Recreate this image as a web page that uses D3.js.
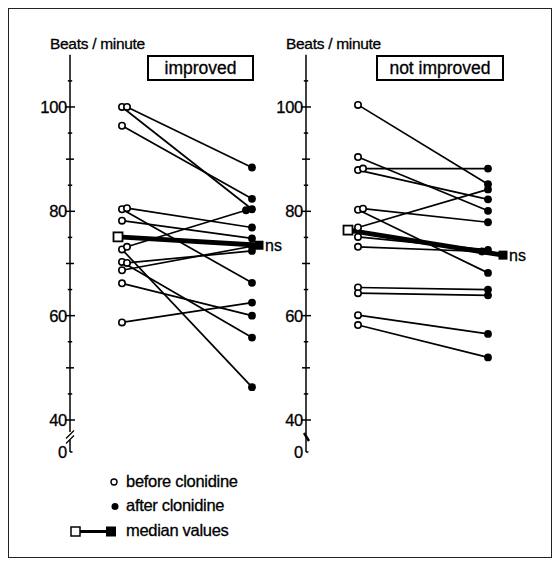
<!DOCTYPE html>
<html><head><meta charset="utf-8">
<script src="https://cdn.jsdelivr.net/npm/d3@7"></script>
<style>html,body{margin:0;padding:0;background:#fff}svg{display:block;font-family:"Liberation Sans",Arial,Helvetica,sans-serif}svg text{stroke:#000;stroke-width:0.3px}</style>
</head><body>
<svg id="c" width="560" height="566"></svg>
<script>
// ---------- data ----------
const panelTitles = ["improved", "not improved"];
const yAxisTitle = "Beats / minute";
const tickLabels = [0, 40, 60, 80, 100];
const minorTicks = [40,45,50,55,60,65,70,75,80,85,90,95,100,105];
const leftBefore  = [100, 100, 96.4, 80.4, 80.6, 78.2, 72.7, 73.2, 70.3, 70.1, 68.7, 66.2, 58.7];
const leftAfter   = [80.4, 88.4, 82.4, 66.3, 76.9, 74.8, 46.3, 80.2, 55.8, 72.4, 73.3, 60.0, 62.5];
const rightBefore = [100.4, 90.4, 87.9, 88.2, 80.3, 80.5, 76.9, 75.1, 73.2, 65.4, 64.3, 60.1, 58.2];
const rightAfter  = [85.2, 80.1, 82.3, 88.2, 68.2, 77.9, 84.2, 72.6, 72.3, 65.0, 63.9, 56.5, 52.0];
const leftMedian  = [75.1, 73.5];
const rightMedian = [76.4, 71.6];
const sigLabels   = ["ns", "ns"];
const legendLabels = ["before clonidine", "after clonidine", "median values"];

// ---------- layout ----------
const svg = d3.select("#c");
svg.append("rect").attr("x",8.5).attr("y",8.5).attr("width",543).attr("height",549)
  .attr("fill","none").attr("stroke","#222").attr("stroke-width",1);

const y = d3.scaleLinear().domain([0, 40, 110]).range([452, 420, 54.8]);
const x = d3.scalePoint().domain(["before","after"]).range([52, 182]);

const panels = [
  {ax: 70,  before: leftBefore,  after: leftAfter,  median: leftMedian,  title: panelTitles[0], box:[78,183], mOff:[-4,7],  brk:"double", sig: sigLabels[0]},
  {ax: 306, before: rightBefore, after: rightAfter, median: rightMedian, title: panelTitles[1], box:[71,197], mOff:[-10,15], brk:"single", sig: sigLabels[1]}
];

function jitter(vals, step) {
  const placed = [];
  return vals.map(v => {
    const n = placed.filter(p => Math.abs(p - v) < 0.6).length;
    placed.push(v);
    return n * step;
  });
}

panels.forEach(p => {
  const g = svg.append("g").attr("transform", `translate(${p.ax},0)`);
  // axis
  g.append("line").attr("x1",0).attr("x2",0).attr("y1",y(0)).attr("y2",y(110))
    .attr("stroke","#000").attr("stroke-width",1.5);
  minorTicks.forEach(v => {
    const h = v % 20 === 0 ? 5 : (v % 10 === 0 ? 4 : 2.2);
    g.append("line").attr("x1",-h).attr("x2",h).attr("y1",y(v)).attr("y2",y(v))
      .attr("stroke","#000").attr("stroke-width",1.5);
  });
  g.append("line").attr("x1",0).attr("x2",2.5).attr("y1",y(0)).attr("y2",y(0))
    .attr("stroke","#000").attr("stroke-width",1.5);
  tickLabels.forEach(v => {
    g.append("text").attr("x",-3).attr("y",y(v)).attr("dy","0.36em")
      .attr("text-anchor","end").attr("font-size",16.5).attr("letter-spacing",-0.3).text(v);
  });
  // axis break
  const by = 437;
  if (p.brk === "double") {
    g.append("rect").attr("x",-3).attr("y",by-5).attr("width",6).attr("height",8).attr("fill","#fff");
    [-2.5, 2.5].forEach(o => g.append("line").attr("x1",-4).attr("x2",4)
      .attr("y1",by+o+4).attr("y2",by+o-4).attr("stroke","#000").attr("stroke-width",1.3));
  } else {
    g.append("line").attr("x1",-2).attr("x2",3).attr("y1",by-4).attr("y2",by+4)
      .attr("stroke","#000").attr("stroke-width",2.5);
  }
  // axis title
  g.append("text").attr("x",-20).attr("y",49).attr("font-size",15.5).attr("letter-spacing",-0.3).text(yAxisTitle);
  // title box
  g.append("rect").attr("x",p.box[0]).attr("y",56).attr("width",p.box[1]-p.box[0]).attr("height",24)
    .attr("fill","#fff").attr("stroke","#000").attr("stroke-width",2);
  g.append("text").attr("x",(p.box[0]+p.box[1])/2).attr("y",73.5).attr("text-anchor","middle")
    .attr("font-size",17.5).text(p.title);

  const jb = jitter(p.before, 5);
  const ja = jitter(p.after, -6);
  const pairs = p.before.map((b,i) => ({b, a: p.after[i], xb: x("before")+jb[i], xa: x("after")+ja[i]}));
  // lines
  g.selectAll(".pl").data(pairs).join("line")
    .attr("x1",d=>d.xb).attr("y1",d=>y(d.b)).attr("x2",d=>d.xa).attr("y2",d=>y(d.a))
    .attr("stroke","#000").attr("stroke-width",1.7);
  // median line
  const mxb = x("before")+p.mOff[0], mxa = x("after")+p.mOff[1];
  g.append("line").attr("x1",mxb).attr("y1",y(p.median[0])).attr("x2",mxa).attr("y2",y(p.median[1]))
    .attr("stroke","#000").attr("stroke-width",5);
  // points
  g.selectAll(".ob").data(pairs).join("circle")
    .attr("cx",d=>d.xb).attr("cy",d=>y(d.b)).attr("r",3.2)
    .attr("fill","#fff").attr("stroke","#000").attr("stroke-width",1.6);
  g.selectAll(".oa").data(pairs).join("circle")
    .attr("cx",d=>d.xa).attr("cy",d=>y(d.a)).attr("r",3.9).attr("fill","#000");
  // median squares
  g.append("rect").attr("x",mxb-4.5).attr("y",y(p.median[0])-4.5).attr("width",9).attr("height",9)
    .attr("fill","#fff").attr("stroke","#000").attr("stroke-width",1.8);
  g.append("rect").attr("x",mxa-4.5).attr("y",y(p.median[1])-4.5).attr("width",9).attr("height",9)
    .attr("fill","#000");
  g.append("text").attr("x",mxa+6).attr("y",y(p.median[1])).attr("dy","0.36em")
    .attr("font-size",16).text(p.sig);
});

// legend
const lg = svg.append("g");
lg.append("circle").attr("cx",114).attr("cy",482).attr("r",3).attr("fill","#fff").attr("stroke","#000").attr("stroke-width",1.4);
lg.append("circle").attr("cx",115).attr("cy",506.5).attr("r",3.5).attr("fill","#000");
lg.append("line").attr("x1",76).attr("x2",110).attr("y1",531.5).attr("y2",531.5).attr("stroke","#000").attr("stroke-width",3);
lg.append("rect").attr("x",71).attr("y",527).attr("width",9).attr("height",9).attr("fill","#fff").attr("stroke","#000").attr("stroke-width",1.5);
lg.append("rect").attr("x",106).attr("y",526.5).attr("width",10).attr("height",10).attr("fill","#000");
legendLabels.forEach((t,i) => {
  lg.append("text").attr("x",126).attr("y",487 + i*24.3).attr("font-size",16.5).attr("letter-spacing",-0.3).text(t);
});
</script>
</body></html>
